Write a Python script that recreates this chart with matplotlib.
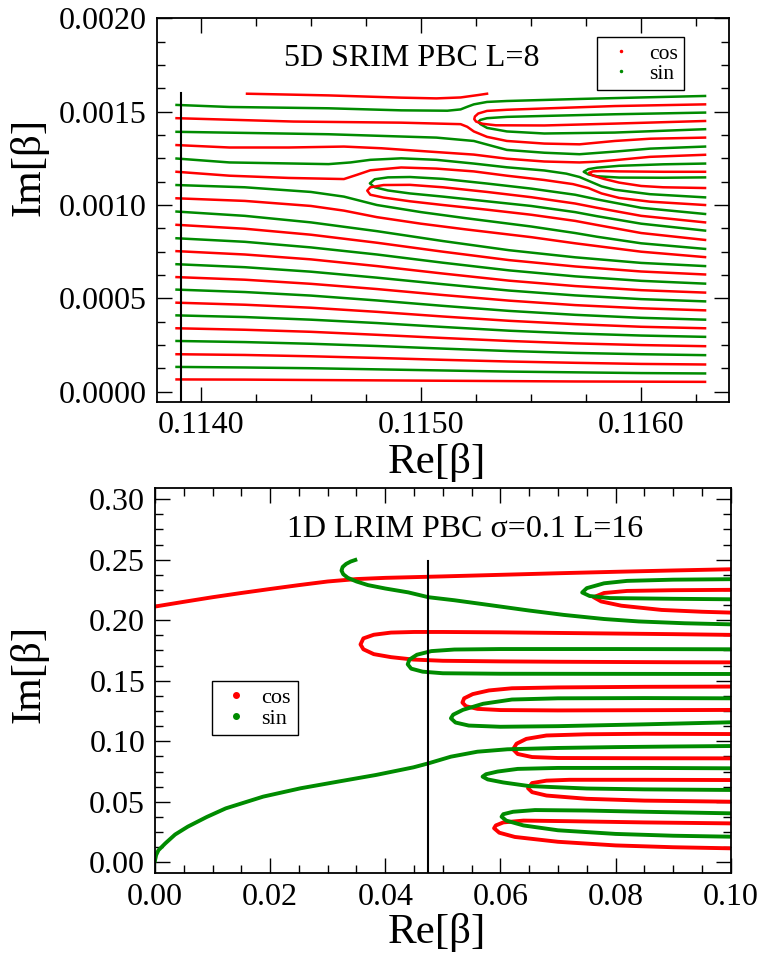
import numpy as np
import matplotlib.pyplot as plt
from matplotlib.lines import Line2D
from matplotlib.ticker import MultipleLocator, FormatStrFormatter

plt.rcParams['font.family'] = ['Liberation Serif', 'DejaVu Serif']

ROJO = '#ff0000'
VERDE = '#008b00'

# ---------- panel superior: 5D SRIM PBC L=8 (Im en unidades de 1e-4) ----------
# lineas "de fondo" (parte baja), todas sobre la misma malla de Re
srim_x = [0.11389, 0.1142, 0.1145, 0.1148, 0.1151, 0.1154, 0.1157, 0.1160, 0.11629]

srim_cos_im = [
    [0.66, 0.65, 0.63, 0.61, 0.59, 0.57, 0.55, 0.54, 0.53],
    [2.01, 1.97, 1.90, 1.81, 1.71, 1.62, 1.55, 1.49, 1.46],
    [3.40, 3.32, 3.21, 3.05, 2.88, 2.72, 2.59, 2.50, 2.44],
    [4.77, 4.66, 4.50, 4.28, 4.03, 3.80, 3.62, 3.48, 3.40],
    [6.14, 6.00, 5.78, 5.50, 5.18, 4.88, 4.64, 4.47, 4.36],
    [7.53, 7.35, 7.09, 6.73, 6.33, 5.95, 5.66, 5.44, 5.31],
    [8.94, 8.73, 8.41, 7.98, 7.50, 7.05, 6.71, 6.44, 6.28],
]
srim_sin_im = [
    [1.33, 1.30, 1.26, 1.20, 1.14, 1.08, 1.04, 1.00, 0.98],
    [2.72, 2.66, 2.57, 2.45, 2.31, 2.18, 2.08, 2.01, 1.96],
    [4.09, 4.00, 3.86, 3.68, 3.47, 3.27, 3.12, 3.01, 2.94],
    [5.47, 5.34, 5.15, 4.89, 4.60, 4.33, 4.12, 3.96, 3.86],
    [6.83, 6.67, 6.43, 6.11, 5.76, 5.42, 5.16, 4.96, 4.84],
    [8.22, 8.03, 7.73, 7.35, 6.91, 6.50, 6.18, 5.94, 5.79],
    [9.65, 9.42, 9.07, 8.60, 8.07, 7.58, 7.20, 6.90, 6.73],
]

# zona alta: curvas que rodean las horquillas
x_l78 = [0.11389, 0.1142, 0.1145, 0.11465, 0.1148, 0.1150, 0.1152, 0.1155, 0.1157, 0.1158, 0.1160, 0.11629]
x_h3 = [0.11629, 0.1160, 0.1158, 0.1157, 0.1155, 0.1153, 0.1151, 0.11495, 0.11485, 0.11479, 0.114768,
        0.11479, 0.11485, 0.11495, 0.1151, 0.1153, 0.1155, 0.1157, 0.1158, 0.1160, 0.11629]
x_h3r = [0.11629, 0.1160, 0.1158, 0.1157, 0.1155, 0.1153, 0.1151, 0.11495, 0.11483, 0.11477, 0.114756,
         0.11477, 0.11483, 0.11495, 0.1151, 0.1153, 0.1155, 0.1157, 0.1158, 0.1160, 0.11629]

srim_cos_extra = [
    # fragmento superior
    ([0.11421, 0.11458, 0.11491, 0.11507, 0.11518, 0.11526, 0.11530],
     [15.96, 15.87, 15.75, 15.71, 15.76, 15.89, 15.96]),
    # horquilla superior (roja)
    ([0.11629, 0.11588, 0.11556, 0.11539, 0.11530, 0.11526, 0.115245, 0.115242, 0.11525, 0.11528, 0.11534, 0.11556, 0.11588, 0.11629],
     [15.39, 15.30, 15.17, 15.10, 15.04, 14.90, 14.74, 14.60, 14.47, 14.35, 14.27, 14.26, 14.36, 14.50]),
    ([0.11389, 0.11442, 0.11491, 0.11518, 0.11521, 0.11524, 0.11530, 0.11539, 0.11556, 0.11572, 0.11588, 0.11604, 0.11629],
     [14.65, 14.47, 14.41, 14.33, 14.19, 13.94, 13.65, 13.43, 13.29, 13.25, 13.43, 13.55, 13.61]),
    ([0.11389, 0.11413, 0.1144, 0.11465, 0.11482, 0.11499, 0.11524, 0.11539, 0.11556, 0.11572, 0.11580, 0.11588, 0.11604, 0.11629],
     [13.21, 13.08, 13.08, 13.13, 13.04, 12.90, 12.70, 12.48, 12.33, 12.28, 12.32, 12.40, 12.58, 12.69]),
    ([0.11389, 0.11413, 0.1144, 0.11465, 0.11471, 0.11477, 0.11491, 0.11507, 0.11524, 0.11539, 0.11556, 0.11569, 0.11576, 0.11582, 0.11590, 0.11604, 0.11629],
     [11.78, 11.57, 11.45, 11.39, 11.62, 11.86, 12.01, 11.95, 11.80, 11.57, 11.34, 11.12, 10.91, 10.62, 10.38, 10.18, 10.00]),
    # horquilla derecha (roja)
    ([0.11629, 0.1161, 0.1159, 0.11582, 0.11578, 0.115763, 0.11578, 0.11583, 0.1159, 0.1160, 0.1161, 0.11629],
     [11.78, 11.78, 11.80, 11.82, 11.80, 11.72, 11.58, 11.40, 11.20, 11.02, 10.95, 10.91]),
    # horquilla izquierda (roja)
    (x_h3r, [9.07, 9.42, 9.85, 10.08, 10.42, 10.70, 10.95, 11.08, 11.07, 10.95, 10.77,
             10.55, 10.40, 10.20, 10.00, 9.75, 9.48, 9.15, 8.93, 8.50, 8.13]),
    (x_l78, [10.36, 10.22, 9.95, 9.70, 9.35, 9.00, 8.70, 8.28, 7.95, 7.80, 7.50, 7.21]),
]
srim_sin_extra = [
    ([0.11389, 0.11413, 0.11458, 0.11491, 0.11512, 0.11518, 0.11521, 0.11524, 0.11530, 0.11539, 0.11572, 0.1160, 0.11629],
     [15.36, 15.25, 15.18, 15.07, 15.05, 15.12, 15.26, 15.39, 15.52, 15.57, 15.68, 15.76, 15.84]),
    # horquilla superior (verde)
    ([0.11629, 0.11588, 0.11556, 0.11539, 0.11530, 0.11527, 0.11526, 0.11527, 0.11530, 0.11539, 0.11556, 0.11588, 0.11629],
     [14.95, 14.86, 14.77, 14.72, 14.65, 14.56, 14.45, 14.33, 14.13, 13.94, 13.83, 13.88, 14.06]),
    ([0.11389, 0.11458, 0.11507, 0.11524, 0.11539, 0.11556, 0.11572, 0.11588, 0.11604, 0.11629],
     [13.92, 13.79, 13.61, 13.43, 12.95, 12.80, 12.72, 12.86, 13.02, 13.13]),
    ([0.11389, 0.11413, 0.11458, 0.11468, 0.11477, 0.11491, 0.11507, 0.11524, 0.11539, 0.11556, 0.11566, 0.11572, 0.11577, 0.11582, 0.11588, 0.11604, 0.11629],
     [12.49, 12.28, 12.19, 12.28, 12.42, 12.50, 12.42, 12.22, 12.02, 11.85, 11.68, 11.50, 11.25, 11.00, 10.82, 10.58, 10.41]),
    # horquilla derecha (verde)
    ([0.11629, 0.1161, 0.1159, 0.11580, 0.11576, 0.115739, 0.11576, 0.11580, 0.1159, 0.1161, 0.11629],
     [12.22, 12.18, 12.10, 12.00, 11.92, 11.78, 11.64, 11.54, 11.47, 11.46, 11.48]),
    # horquilla izquierda (verde)
    (x_h3, [9.52, 9.85, 10.30, 10.55, 10.88, 11.15, 11.40, 11.50, 11.48, 11.38, 11.16,
            10.95, 10.78, 10.62, 10.45, 10.20, 9.95, 9.62, 9.40, 9.00, 8.63]),
    (x_l78, [11.07, 10.95, 10.70, 10.45, 10.00, 9.62, 9.30, 8.85, 8.50, 8.30, 7.95, 7.65]),
]
srim_linea_x = 0.11391
srim_linea_top = 16.0

# ---------- panel inferior: 1D LRIM PBC sigma=0.1 L=16 ----------
lrim_cos = [
    ([0.000, 0.005, 0.010, 0.015, 0.020, 0.025, 0.030, 0.035, 0.040, 0.050, 0.060, 0.070, 0.080, 0.090, 0.100],
     [0.2113, 0.2152, 0.2190, 0.2225, 0.2258, 0.2290, 0.2320, 0.2340, 0.2350, 0.2362, 0.2375, 0.2388, 0.2400, 0.2411, 0.2421]),
    ([0.100, 0.090, 0.082, 0.078, 0.0762, 0.0775, 0.081, 0.088, 0.095, 0.100],
     [0.2251, 0.2248, 0.2242, 0.2225, 0.2190, 0.2155, 0.2120, 0.2085, 0.2070, 0.2063]),
    ([0.100, 0.090, 0.080, 0.070, 0.060, 0.050, 0.045, 0.041, 0.038, 0.0362, 0.0357, 0.0362, 0.038, 0.041, 0.0449, 0.050, 0.060, 0.070, 0.080, 0.090, 0.100],
     [0.1879, 0.1885, 0.1890, 0.1895, 0.1900, 0.1903, 0.1903, 0.1898, 0.1880, 0.1850, 0.1800, 0.1760, 0.1720, 0.1695, 0.1675, 0.1665, 0.1660, 0.1657, 0.1655, 0.1653, 0.1652]),
    ([0.100, 0.085, 0.070, 0.062, 0.058, 0.0552, 0.0537, 0.0534, 0.0540, 0.056, 0.060, 0.070, 0.085, 0.100],
     [0.1452, 0.1450, 0.1445, 0.1438, 0.1420, 0.1390, 0.1355, 0.1320, 0.1290, 0.1268, 0.1258, 0.1255, 0.1257, 0.1259]),
    ([0.100, 0.085, 0.075, 0.068, 0.0645, 0.0628, 0.0622, 0.0630, 0.0655, 0.070, 0.085, 0.100],
     [0.1060, 0.1062, 0.1058, 0.1048, 0.1020, 0.0980, 0.0934, 0.0895, 0.0870, 0.0862, 0.0860, 0.0859]),
    ([0.100, 0.085, 0.072, 0.068, 0.0655, 0.0648, 0.0655, 0.068, 0.075, 0.085, 0.100],
     [0.0680, 0.0682, 0.0682, 0.0675, 0.0655, 0.0612, 0.0580, 0.0552, 0.0525, 0.0510, 0.0501]),
    ([0.100, 0.085, 0.072, 0.064, 0.0605, 0.0592, 0.0589, 0.0598, 0.0625, 0.070, 0.080, 0.090, 0.100],
     [0.0322, 0.0330, 0.0340, 0.0345, 0.0330, 0.0305, 0.0282, 0.0245, 0.0210, 0.0170, 0.0140, 0.0125, 0.0116]),
]
lrim_sin = [
    ([0.0348, 0.0340, 0.0332, 0.0326, 0.0324, 0.0327, 0.0335, 0.0350, 0.0370, 0.0400, 0.0440, 0.0475, 0.0520, 0.0580, 0.0650, 0.0710, 0.0780, 0.0840, 0.0920, 0.1000],
     [0.2498, 0.2485, 0.2465, 0.2440, 0.2410, 0.2380, 0.2350, 0.2320, 0.2290, 0.2262, 0.2230, 0.2190, 0.2165, 0.2126, 0.2080, 0.2044, 0.2010, 0.1990, 0.1975, 0.1966]),
    ([0.100, 0.090, 0.082, 0.078, 0.075, 0.0742, 0.0755, 0.079, 0.090, 0.100],
     [0.2339, 0.2335, 0.2325, 0.2305, 0.2265, 0.2229, 0.2200, 0.2183, 0.2177, 0.2173]),
    ([0.100, 0.080, 0.060, 0.052, 0.048, 0.0455, 0.0442, 0.0439, 0.0445, 0.0465, 0.050, 0.060, 0.080, 0.100],
     [0.1760, 0.1762, 0.1762, 0.1758, 0.1745, 0.1715, 0.1675, 0.1636, 0.1600, 0.1575, 0.1562, 0.1558, 0.1557, 0.1556]),
    ([0.100, 0.085, 0.070, 0.062, 0.057, 0.0535, 0.0518, 0.0514, 0.0522, 0.0545, 0.060, 0.070, 0.085, 0.100],
     [0.1355, 0.1357, 0.1355, 0.1345, 0.1310, 0.1260, 0.1220, 0.1190, 0.1155, 0.1130, 0.1120, 0.1125, 0.1140, 0.1157]),
    ([0.0000, 0.0002, 0.0006, 0.0018, 0.0035, 0.0057, 0.0090, 0.0123, 0.0188, 0.0253, 0.0318, 0.0384, 0.0449, 0.0475, 0.0514, 0.0560, 0.0612, 0.0700, 0.0800, 0.0900, 0.1000],
     [0.0015, 0.0060, 0.0100, 0.0157, 0.0230, 0.0295, 0.0375, 0.0446, 0.0543, 0.0612, 0.0667, 0.0722, 0.0785, 0.0818, 0.0873, 0.0914, 0.0934, 0.0945, 0.0952, 0.0957, 0.0961]),
    ([0.100, 0.085, 0.070, 0.063, 0.0595, 0.0575, 0.0569, 0.0578, 0.0605, 0.065, 0.075, 0.085, 0.100],
     [0.0777, 0.0780, 0.0780, 0.0772, 0.0750, 0.0728, 0.0708, 0.0685, 0.0660, 0.0630, 0.0610, 0.0603, 0.0598]),
    ([0.100, 0.085, 0.075, 0.066, 0.0622, 0.0605, 0.0602, 0.0610, 0.0640, 0.070, 0.080, 0.090, 0.100],
     [0.0405, 0.0418, 0.0428, 0.0432, 0.0418, 0.0398, 0.0377, 0.0345, 0.0305, 0.0265, 0.0235, 0.0220, 0.0212]),
]
lrim_linea_x = 0.0475
lrim_linea_top = 0.249


def estilo_ejes(ax):
    ax.tick_params(which='both', direction='in', top=True, right=True,
                   labelsize=23, width=1.0)
    ax.tick_params(which='major', length=11, pad=7)
    ax.tick_params(which='minor', length=5.5)
    for s in ax.spines.values():
        s.set_linewidth(1.3)


fig = plt.figure(figsize=(7.63, 9.57), dpi=100)

# panel superior
ax1 = fig.add_axes([0.2054, 0.5803, 0.7504, 0.4006])
for yy in srim_cos_im:
    ax1.plot(srim_x, np.array(yy) * 1e-4, color=ROJO, lw=1.8)
for yy in srim_sin_im:
    ax1.plot(srim_x, np.array(yy) * 1e-4, color=VERDE, lw=1.8)
for xx, yy in srim_sin_extra:
    ax1.plot(xx, np.array(yy) * 1e-4, color=VERDE, lw=1.8, solid_joinstyle='round')
for xx, yy in srim_cos_extra:
    ax1.plot(xx, np.array(yy) * 1e-4, color=ROJO, lw=1.8, solid_joinstyle='round')
ax1.plot([srim_linea_x, srim_linea_x], [-0.0001, srim_linea_top * 1e-4], color='black', lw=1.5)

ax1.set_xlim(0.1138, 0.1164)
ax1.set_ylim(-0.000053, 0.0020)
ax1.xaxis.set_major_locator(MultipleLocator(0.001))
ax1.xaxis.set_minor_locator(MultipleLocator(0.00025))
ax1.yaxis.set_major_locator(MultipleLocator(0.0005))
ax1.yaxis.set_minor_locator(MultipleLocator(0.000125))
ax1.xaxis.set_major_formatter(FormatStrFormatter('%.4f'))
ax1.yaxis.set_major_formatter(FormatStrFormatter('%.4f'))
estilo_ejes(ax1)
ax1.text(0.445, 0.894, '5D SRIM PBC L=8', transform=ax1.transAxes,
         ha='center', va='center', fontsize=23)
h1 = [Line2D([], [], ls='none', marker='o', ms=1.5, color=ROJO),
      Line2D([], [], ls='none', marker='o', ms=1.5, color=VERDE)]
leg1 = ax1.legend(h1, ['cos', 'sin'], loc='upper left', bbox_to_anchor=(0.769, 0.951),
                  borderaxespad=0, fontsize=15.5, frameon=True, fancybox=False,
                  framealpha=1, edgecolor='black', handlelength=1.6,
                  handletextpad=0.5, borderpad=0.3, labelspacing=0.0)
leg1.get_frame().set_linewidth(1.0)

# panel inferior
ax2 = fig.add_axes([0.2031, 0.0875, 0.7546, 0.4023])
for xx, yy in lrim_cos:
    ax2.plot(xx, yy, color=ROJO, lw=2.8, solid_joinstyle='round')
for xx, yy in lrim_sin:
    ax2.plot(xx, yy, color=VERDE, lw=2.8, solid_joinstyle='round')
ax2.plot([lrim_linea_x, lrim_linea_x], [-0.02, lrim_linea_top], color='black', lw=1.5)

ax2.set_xlim(0.0, 0.1)
ax2.set_ylim(-0.009, 0.309)
ax2.xaxis.set_major_locator(MultipleLocator(0.02))
ax2.xaxis.set_minor_locator(MultipleLocator(0.005))
ax2.yaxis.set_major_locator(MultipleLocator(0.05))
ax2.yaxis.set_minor_locator(MultipleLocator(0.0125))
ax2.xaxis.set_major_formatter(FormatStrFormatter('%.2f'))
ax2.yaxis.set_major_formatter(FormatStrFormatter('%.2f'))
estilo_ejes(ax2)
ax2.text(0.538, 0.892, '1D LRIM PBC σ=0.1 L=16', transform=ax2.transAxes,
         ha='center', va='center', fontsize=23)
h2 = [Line2D([], [], ls='none', marker='o', ms=4, color=ROJO),
      Line2D([], [], ls='none', marker='o', ms=4, color=VERDE)]
leg2 = ax2.legend(h2, ['cos', 'sin'], loc='upper left', bbox_to_anchor=(0.0999, 0.4995),
                  borderaxespad=0, fontsize=16, frameon=True, fancybox=False,
                  framealpha=1, edgecolor='black', handlelength=1.55,
                  handletextpad=0.35, borderpad=0.3, labelspacing=0.0)
leg2.get_frame().set_linewidth(1.0)

# rotulos de ejes en posicion fija de la figura
fig.text(0.038, 0.826, 'Im[β]', rotation=90, ha='center', va='center', fontsize=31)
fig.text(0.5727, 0.5162, 'Re[β]', ha='center', va='center', fontsize=31)
fig.text(0.038, 0.296, 'Im[β]', rotation=90, ha='center', va='center', fontsize=31)
fig.text(0.5727, 0.0261, 'Re[β]', ha='center', va='center', fontsize=31)

fig.savefig('out.png', dpi=100)
